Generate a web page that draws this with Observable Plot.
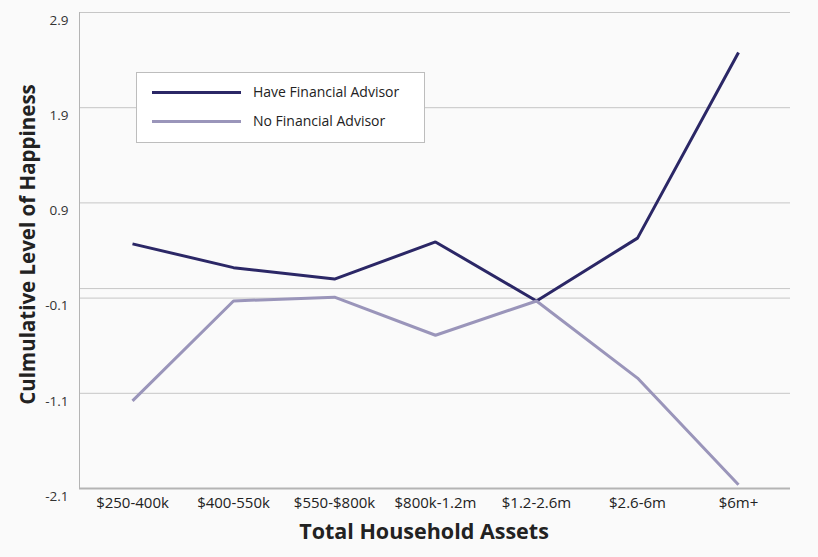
<!DOCTYPE html>
<html>
<head>
<meta charset="utf-8">
<script src="https://cdn.jsdelivr.net/npm/d3@7"></script>
<script src="https://cdn.jsdelivr.net/npm/@observablehq/plot@0.6"></script>
<style>
  html, body { margin: 0; padding: 0; background: #fafafa; }
  #wrap { position: relative; width: 818px; height: 557px; font-family: "Open Sans", Lato, sans-serif; }
  #legend { position: absolute; left: 136px; top: 72px; width: 287px; height: 69px; background: #fff; border: 1px solid #bdbdbd; }
  .item { position: absolute; left: 15px; display: flex; align-items: center; font-size: 14px; color: #222; line-height: 16px; }
  .swatch { width: 89px; height: 3px; margin-right: 12px; }
</style>
</head>
<body>
<div id="wrap"></div>
<script>
const categories = ["$250-400k", "$400-550k", "$550-$800k", "$800k-1.2m", "$1.2-2.6m", "$2.6-6m", "$6m+"];
const haveAdvisor = [0.47, 0.22, 0.10, 0.49, -0.13, 0.53, 2.48];
const noAdvisor = [-1.18, -0.13, -0.09, -0.49, -0.13, -0.94, -2.06];
const yTicks = [2.9, 1.9, 0.9, -0.1, -1.1, -2.1];
const seriesNames = ["Have Financial Advisor", "No Financial Advisor"];
const seriesColors = ["#2b2766", "#9a95ba"];

const rows = [];
categories.forEach((c, i) => {
  rows.push({cat: c, value: haveAdvisor[i], series: seriesNames[0]});
  rows.push({cat: c, value: noAdvisor[i], series: seriesNames[1]});
});

const chart = Plot.plot({
  width: 818,
  height: 557,
  marginLeft: 79,
  marginRight: 28,
  marginTop: 12,
  marginBottom: 69,
  style: {background: "#fafafa", fontFamily: "'Open Sans', Lato, sans-serif"},
  x: {type: "point", domain: categories, padding: 0.5},
  y: {domain: [-2.1, 2.9]},
  color: {domain: seriesNames, range: seriesColors},
  marks: [
    Plot.ruleY(yTicks.slice(0, -1), {stroke: "#c6c6c6", strokeWidth: 1}),
    Plot.ruleY([0], {stroke: "#c6c6c6", strokeWidth: 1}),
    Plot.frame({anchor: "left", stroke: "#b4b4b4", strokeWidth: 1}),
    Plot.ruleY([yTicks[yTicks.length - 1]], {stroke: "#b4b4b4", strokeWidth: 2}),
    Plot.axisY({ticks: yTicks, tickSize: 0, tickPadding: 11, dy: 8, fontSize: 13.5, tickFormat: d => String(d), label: null, color: "#333"}),
    Plot.axisX({tickSize: 0, tickPadding: 9, fontSize: 15, label: null, color: "#222"}),
    Plot.line(rows, {x: "cat", y: "value", z: "series", stroke: "series", strokeWidth: 3, strokeLinejoin: "miter", strokeLinecap: "butt"}),
    Plot.text(["Total Household Assets"], {frameAnchor: "bottom", dy: 50, dx: -11, fontSize: 21.5, fontWeight: "bold", fill: "#222", fontFamily: "'Open Sans', sans-serif"}),
    Plot.text(["Culmulative Level of Happiness"], {frameAnchor: "left", textAnchor: "middle", dx: -51, dy: -6, rotate: -90, fontSize: 20.5, fontWeight: "bold", fill: "#222", fontFamily: "'Open Sans', sans-serif"})
  ]
});

const wrap = document.getElementById("wrap");
wrap.appendChild(chart);

const legend = document.createElement("div");
legend.id = "legend";
seriesNames.forEach((name, i) => {
  const item = document.createElement("div");
  item.className = "item";
  item.style.top = (i === 0 ? 11 : 40) + "px";
  const sw = document.createElement("span");
  sw.className = "swatch";
  sw.style.background = seriesColors[i];
  const label = document.createElement("span");
  label.textContent = name;
  item.appendChild(sw);
  item.appendChild(label);
  legend.appendChild(item);
});
wrap.appendChild(legend);
</script>
</body>
</html>
